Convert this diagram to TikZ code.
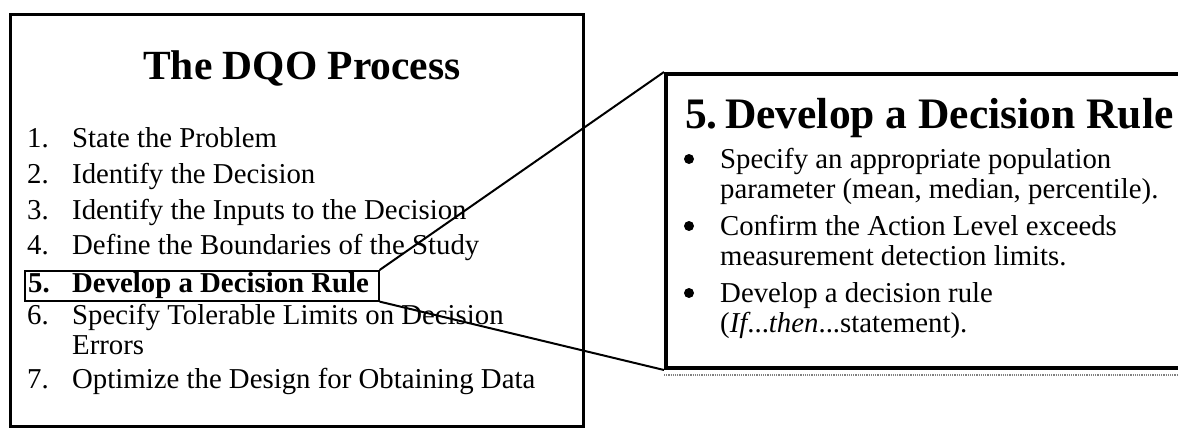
\documentclass[tikz,border=0pt]{standalone}
\usepackage{fontspec}
\setmainfont{Liberation Serif}
\usetikzlibrary{positioning}
\tikzset{
  frame/.style={draw, line width=#1, inner sep=0pt},
  txt/.style={anchor=base west, inner sep=0pt, font=\fontsize{28.8}{30}\selectfont},
  bold/.style={txt, font=\bfseries\fontsize{28.8}{30}\selectfont},
  big/.style={txt, font=\bfseries\fontsize{41.5}{44}\selectfont},
  head/.style={txt, font=\bfseries\fontsize{43.5}{46}\selectfont},
  dot/.style={circle, fill, inner sep=0pt, minimum size=10pt},
  link/.style={line width=2pt}
}

\begin{document}
\begin{tikzpicture}[x=1pt,y=-1pt]
\useasboundingbox (0,0) rectangle (1178,428);
\clip (0,0) rectangle (1178,428);
% the seven steps
\node[frame=3pt, anchor=north west, minimum width=573pt, minimum height=412pt] (panel) at (9,13) {};
\node[big, anchor=base] (title) at (302,80) {The DQO Process};
\foreach \n/\y/\t in {1/147/State the Problem, 2/183/Identify the Decision, 3/219/Identify the Inputs to the Decision, 4/254/Define the Boundaries of the Study, 6/324/Specify Tolerable Limits on Decision, 7/388/Optimize the Design for Obtaining Data}{
  \node[txt] (num\n) at (27,\y) {\n.};
  \node[txt] (step\n) at (72,\y) {\t};
}
\node[txt] (step6b) at (72,354) {Errors};
\node[bold] (num5) at (28,292) {5.};
\node[bold] (step5) at (72,292) {Develop a Decision Rule};
\node[frame=1.6pt, anchor=north west, minimum width=354pt, minimum height=30pt] (rule5) at (24,270) {};
% zoomed step
\node[frame=4pt, anchor=north west, minimum width=560pt, minimum height=294pt] (zoom) at (664,72) {};
\node[head] (headnum) at (685,128) {5.};
\node[head] (headtxt) at (725,128) {Develop a Decision Rule};
\foreach \k/\y/\a/\b in {1/168/{Specify an appropriate population}/{parameter (mean, median, percentile).},
                         2/235/{Confirm the Action Level exceeds}/{measurement detection limits.},
                         3/302/{Develop a decision rule}/{(\textit{If}...\textit{then}...statement).}}{
  \node[dot] (dot\k) at (689,\y-9) {};
  \node[txt] (pt\k) at (720,\y) {\a};
  \node[txt] (ptb\k) at ([yshift=-30.5pt]pt\k.base west) {\b};
}
\draw[link] (rule5.north east) -- (zoom.north west);
\draw[link] (rule5.south east) -- (zoom.south west);
\draw[gray, densely dotted, line width=1.2pt] ([yshift=-5pt]zoom.south west) -- ++(520,0);
\end{tikzpicture}
\end{document}
